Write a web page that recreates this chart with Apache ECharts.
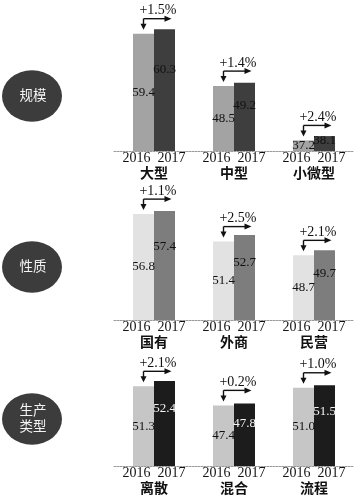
<!DOCTYPE html>
<html><head><meta charset="utf-8">
<script src="https://cdn.jsdelivr.net/npm/echarts@6/dist/echarts.min.js"></script>
<style>html,body{margin:0;padding:0;background:#fff}#c{width:356px;height:497px}</style>
</head><body><div id="c"></div>
<script>
// ---- data ----
const years = ['2016', '2017'];
const groupNames = ['规模', '性质', '生产\n类型'];

const cats1 = ['大型', '中型', '小微型'];
const v2016_1 = [59.4, 48.5, 37.2];
const v2017_1 = [60.3, 49.2, 38.1];
const chg1 = ['+1.5%', '+1.4%', '+2.4%'];

const cats2 = ['国有', '外商', '民营'];
const v2016_2 = [56.8, 51.4, 48.7];
const v2017_2 = [57.4, 52.7, 49.7];
const chg2 = ['+1.1%', '+2.5%', '+2.1%'];

const cats3 = ['离散', '混合', '流程'];
const v2016_3 = [51.3, 47.4, 51.0];
const v2017_3 = [52.4, 47.8, 51.5];
const chg3 = ['+2.1%', '+0.2%', '+1.0%'];

// ---- layout / style ----
const BAR_W = 21;
const SERIF = '"Liberation Serif", "DejaVu Serif", serif';
const CJK = '"Noto Sans CJK SC", sans-serif';
const panels = [
  { cats: cats1, a: v2016_1, b: v2017_1, chg: chg1, top: 26, height: 125, min: 35, max: 61, c1: '#a3a3a3', c2: '#3e3e3e', l2: '#111' },
  { cats: cats2, a: v2016_2, b: v2017_2, chg: chg2, top: 208, height: 112, min: 36, max: 58, c1: '#e2e2e2', c2: '#7d7d7d', l2: '#111' },
  { cats: cats3, a: v2016_3, b: v2017_3, chg: chg3, top: 378, height: 88, min: 35, max: 53, c1: '#c6c6c6', c2: '#1c1c1c', l2: '#f2f2f2' }
];
const circleY = [96, 267, 419];
const fmt = p => Number(p.value).toFixed(1);

const grid = [], xAxis = [], yAxis = [], series = [];
panels.forEach((p, i) => {
  grid.push({ left: 114, width: 240, top: p.top, height: p.height });
  xAxis.push({
    type: 'category', gridIndex: i, data: p.cats,
    axisTick: { show: false },
    axisLine: { lineStyle: { color: '#9a9a9a', width: 1, type: [2, 1] } },
    axisLabel: {
      interval: 0, margin: 0,
      formatter: v => '{y|' + years.join('  ') + '}\n{c|' + v + '}',
      rich: {
        y: { fontFamily: SERIF, fontSize: 14, lineHeight: 14, color: '#111' },
        c: { fontFamily: CJK, fontSize: 14, fontWeight: 'bold', lineHeight: 16, color: '#111' }
      }
    }
  });
  yAxis.push({ type: 'value', gridIndex: i, min: p.min, max: p.max, show: false, splitLine: { show: false } });
  series.push({
    type: 'bar', xAxisIndex: i, yAxisIndex: i, data: p.a, barWidth: BAR_W, barGap: '0%',
    itemStyle: { color: p.c1 },
    label: { show: true, position: 'inside', formatter: fmt, fontFamily: SERIF, fontSize: 13, color: '#111' }
  });
  series.push({
    type: 'bar', xAxisIndex: i, yAxisIndex: i, data: p.b, barWidth: BAR_W, barGap: '0%',
    itemStyle: { color: p.c2 },
    label: { show: true, position: ['50%', '33%'], align: 'center', verticalAlign: 'middle', formatter: fmt, fontFamily: SERIF, fontSize: 13, color: p.l2 }
  });
  series.push({
    type: 'custom', xAxisIndex: i, yAxisIndex: i, clip: false, z: 10,
    data: p.a.map((v, k) => [k, v]),
    encode: { x: 0, y: 1 },
    renderItem: (params, api) => {
      const pt = api.coord([api.value(0), api.value(1)]);
      const cx = pt[0], top = pt[1];
      const x0 = cx - BAR_W / 2, x1 = cx + BAR_W / 2 + 7;
      const yH = top - 15, yTip = top - 4;
      const col = '#111';
      return {
        type: 'group',
        children: [
          { type: 'line', shape: { x1: x0, y1: yH, x2: x0, y2: yTip - 5 }, style: { stroke: col, lineWidth: 1.4 } },
          { type: 'line', shape: { x1: x0, y1: yH, x2: x1 - 6, y2: yH }, style: { stroke: col, lineWidth: 1.4 } },
          { type: 'polygon', shape: { points: [[x0 - 3, yTip - 6], [x0 + 3, yTip - 6], [x0, yTip]] }, style: { fill: col } },
          { type: 'polygon', shape: { points: [[x1 - 7, yH - 3], [x1 - 7, yH + 3], [x1, yH]] }, style: { fill: col } },
          { type: 'text', x: cx + 4, y: top - 23,
            style: { text: p.chg[params.dataIndex], fontFamily: SERIF, fontSize: 14, fill: col, align: 'center', verticalAlign: 'middle' } }
        ]
      };
    }
  });
});

const graphic = [];
groupNames.forEach((g, i) => {
  graphic.push({
    type: 'circle', shape: { cx: 32, cy: circleY[i], r: 30 },
    scaleY: 0.86, originX: 32, originY: circleY[i],
    style: { fill: '#3c3c3c' }, z: 1
  });
  graphic.push({
    type: 'text', x: 33, y: circleY[i] - 1, z: 2,
    style: { text: g, fontFamily: CJK, fontSize: 13.5, lineHeight: 16, fill: '#f4f4f4', align: 'center', verticalAlign: 'middle' }
  });
});

const chart = echarts.init(document.getElementById('c'), null, { renderer: 'canvas' });
chart.setOption({ backgroundColor: '#fff', animation: false, grid, xAxis, yAxis, series, graphic });
</script>
</body></html>
